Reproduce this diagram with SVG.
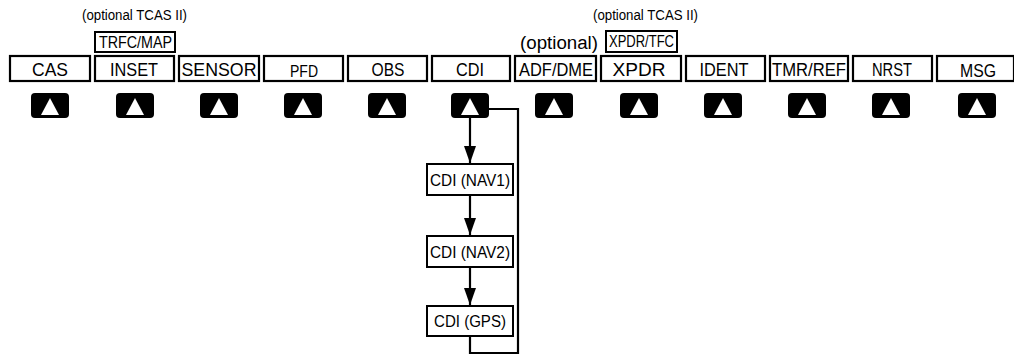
<svg xmlns="http://www.w3.org/2000/svg" width="1014" height="356" viewBox="0 0 1014 356">
<style>
.box{fill:#fff;stroke:#000;stroke-width:2}
.key{fill:#fff;stroke:#000;stroke-width:2.2}
.btn{fill:#000}
.tri{fill:#fff}
text{font-family:"Liberation Sans Narrow","Liberation Sans",Arial,sans-serif;fill:#000}
.kt{font-size:19px;text-anchor:middle}
.st{font-size:16px}
.lbl{font-size:14px}
.line{fill:none;stroke:#000;stroke-width:2.2}
</style>
<defs>
<marker id="ah" markerWidth="17" markerHeight="12" refX="17" refY="6" orient="auto" markerUnits="userSpaceOnUse" viewBox="0 0 17 12">
<path d="M0,0 L17,6 L0,12 Z" fill="#000"/>
</marker>
<g id="button">
<rect x="-19" y="0" width="38" height="25" rx="4" class="btn"/>
<path d="M0,5 L9,22 L-9,22 Z" class="tri"/>
</g>
</defs>

<g id="labels">
<text x="82" y="20" class="lbl" textLength="105" lengthAdjust="spacingAndGlyphs">(optional TCAS II)</text>
<text x="593" y="20" class="lbl" textLength="105" lengthAdjust="spacingAndGlyphs">(optional TCAS II)</text>
<text x="520" y="49" style="font-size:18px" textLength="78" lengthAdjust="spacingAndGlyphs">(optional)</text>
</g>

<g id="trfc-map">
<rect x="95" y="32" width="80" height="20" class="box"/>
<text x="99" y="48" class="st" textLength="73" lengthAdjust="spacingAndGlyphs">TRFC/MAP</text>
</g>
<g id="xpdr-tfc">
<rect x="606" y="31" width="71" height="21" class="box"/>
<text x="609" y="47" class="st" textLength="65" lengthAdjust="spacingAndGlyphs">XPDR/TFC</text>
</g>

<g id="key-cas"><rect x="10" y="56" width="80" height="25" class="key"/><text x="50" y="76" class="kt" textLength="36" lengthAdjust="spacingAndGlyphs">CAS</text><use href="#button" x="50" y="93"/></g>
<g id="key-inset"><rect x="95" y="56" width="79" height="25" class="key"/><text x="134" y="76" class="kt" textLength="48" lengthAdjust="spacingAndGlyphs">INSET</text><use href="#button" x="135" y="93"/></g>
<g id="key-sensor"><rect x="179" y="56" width="80" height="25" class="key"/><text x="219" y="76" class="kt" textLength="75" lengthAdjust="spacingAndGlyphs">SENSOR</text><use href="#button" x="219" y="93"/></g>
<g id="key-pfd"><rect x="264" y="56" width="79" height="25" class="key"/><text x="304" y="77" class="kt" style="font-size:16px" textLength="28" lengthAdjust="spacingAndGlyphs">PFD</text><use href="#button" x="303" y="93"/></g>
<g id="key-obs"><rect x="348" y="56" width="79" height="25" class="key"/><text x="388" y="76" class="kt" textLength="33" lengthAdjust="spacingAndGlyphs">OBS</text><use href="#button" x="387" y="93"/></g>
<g id="key-cdi"><rect x="432" y="56" width="78" height="25" class="key"/><text x="470" y="76" class="kt" textLength="28" lengthAdjust="spacingAndGlyphs">CDI</text><use href="#button" x="470" y="93"/></g>
<g id="key-adfdme"><rect x="515" y="56" width="81" height="25" class="key"/><text x="556" y="76" class="kt" textLength="74" lengthAdjust="spacingAndGlyphs">ADF/DME</text><use href="#button" x="554" y="93"/></g>
<g id="key-xpdr"><rect x="601" y="56" width="80" height="25" class="key"/><text x="639" y="76" class="kt" textLength="53" lengthAdjust="spacingAndGlyphs">XPDR</text><use href="#button" x="639" y="93"/></g>
<g id="key-ident"><rect x="686" y="56" width="79" height="25" class="key"/><text x="724" y="76" class="kt" textLength="49" lengthAdjust="spacingAndGlyphs">IDENT</text><use href="#button" x="723" y="93"/></g>
<g id="key-tmrref"><rect x="770" y="56" width="78" height="25" class="key"/><text x="809" y="76" class="kt" textLength="74" lengthAdjust="spacingAndGlyphs">TMR/REF</text><use href="#button" x="807" y="93"/></g>
<g id="key-nrst"><rect x="853" y="56" width="79" height="25" class="key"/><text x="892" y="76" class="kt" textLength="40" lengthAdjust="spacingAndGlyphs">NRST</text><use href="#button" x="891" y="93"/></g>
<g id="key-msg"><rect x="937" y="56" width="77" height="25" class="key"/><text x="978" y="77" class="kt" textLength="36" lengthAdjust="spacingAndGlyphs">MSG</text><use href="#button" x="977" y="93"/></g>

<g id="cdi-nav1"><rect x="427" y="164" width="86" height="31" class="box"/><text x="430" y="186" class="st" textLength="80" lengthAdjust="spacingAndGlyphs">CDI (NAV1)</text></g>
<g id="cdi-nav2"><rect x="427" y="236" width="86" height="31" class="box"/><text x="430" y="258" class="st" textLength="80" lengthAdjust="spacingAndGlyphs">CDI (NAV2)</text></g>
<g id="cdi-gps"><rect x="427" y="306" width="86" height="30" class="box"/><text x="434" y="327" class="st" textLength="72" lengthAdjust="spacingAndGlyphs">CDI (GPS)</text></g>

<g id="connectors">
<line x1="470" y1="118" x2="470" y2="163" class="line" marker-end="url(#ah)"/>
<line x1="470" y1="196" x2="470" y2="235" class="line" marker-end="url(#ah)"/>
<line x1="470" y1="268" x2="470" y2="305" class="line" marker-end="url(#ah)"/>
<polyline points="489,109 518,109 518,353 470,353 470,337" class="line"/>
</g>
</svg>
